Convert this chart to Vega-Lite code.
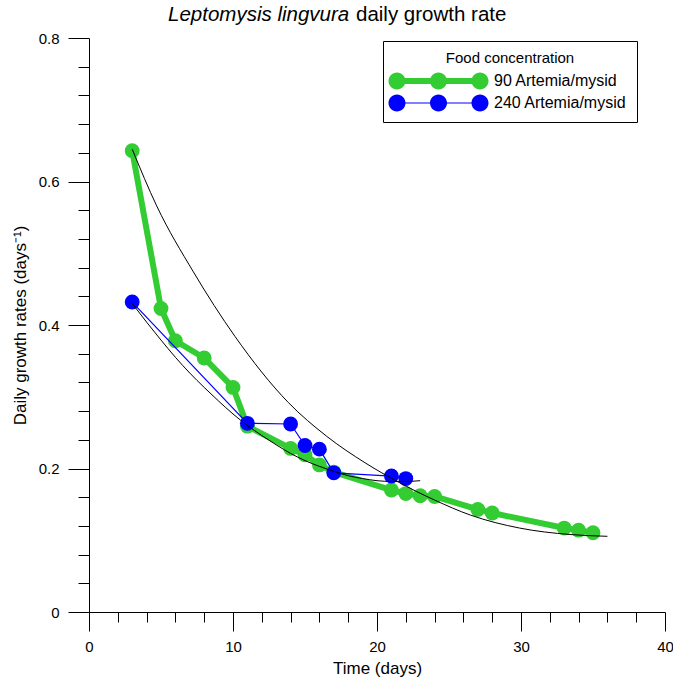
{
  "$schema": "https://vega.github.io/schema/vega-lite/v6.json",
  "width": 576,
  "height": 574,
  "autosize": {"type": "none"},
  "padding": {"left": 89, "top": 38, "right": 8, "bottom": 70},
  "background": "white",
  "config": {
    "view": {"stroke": null},
    "font": "Liberation Sans",
    "axis": {"grid": false, "domainColor": "black", "tickColor": "black", "labelColor": "black", "titleColor": "black", "labelFont": "Liberation Sans", "titleFont": "Liberation Sans", "titleFontWeight": "normal", "labelFontSize": 15, "titleFontSize": 17, "domainWidth": 1, "tickWidth": 1}
  },
  "title": {
    "text": "Leptomysis lingvura",
    "subtitle": "daily growth rate",
    "anchor": "start",
    "frame": "group",
    "dx": 267,
    "font": "Liberation Sans",
    "fontSize": 20.5,
    "fontStyle": "italic",
    "fontWeight": "normal",
    "color": "black",
    "subtitleFont": "Liberation Sans",
    "subtitleFontSize": 20.5,
    "subtitleFontStyle": "normal",
    "subtitleColor": "black",
    "subtitlePadding": -20.5,
    "offset": 6,
    "encoding": {"dx": {"value": 79}}
  },
  "datasets": {
    "growth": [
      {"series": "90 Artemia/mysid", "day": 3, "rate": 0.643},
      {"series": "90 Artemia/mysid", "day": 5, "rate": 0.423},
      {"series": "90 Artemia/mysid", "day": 6, "rate": 0.378},
      {"series": "90 Artemia/mysid", "day": 8, "rate": 0.354},
      {"series": "90 Artemia/mysid", "day": 10, "rate": 0.313},
      {"series": "90 Artemia/mysid", "day": 11, "rate": 0.259},
      {"series": "90 Artemia/mysid", "day": 14, "rate": 0.228},
      {"series": "90 Artemia/mysid", "day": 15, "rate": 0.219},
      {"series": "90 Artemia/mysid", "day": 16, "rate": 0.205},
      {"series": "90 Artemia/mysid", "day": 17, "rate": 0.195},
      {"series": "90 Artemia/mysid", "day": 21, "rate": 0.170},
      {"series": "90 Artemia/mysid", "day": 22, "rate": 0.165},
      {"series": "90 Artemia/mysid", "day": 23, "rate": 0.162},
      {"series": "90 Artemia/mysid", "day": 24, "rate": 0.161},
      {"series": "90 Artemia/mysid", "day": 27, "rate": 0.143},
      {"series": "90 Artemia/mysid", "day": 28, "rate": 0.138},
      {"series": "90 Artemia/mysid", "day": 33, "rate": 0.117},
      {"series": "90 Artemia/mysid", "day": 34, "rate": 0.114},
      {"series": "90 Artemia/mysid", "day": 35, "rate": 0.1105},
      {"series": "240 Artemia/mysid", "day": 3, "rate": 0.432},
      {"series": "240 Artemia/mysid", "day": 11, "rate": 0.263},
      {"series": "240 Artemia/mysid", "day": 14, "rate": 0.262},
      {"series": "240 Artemia/mysid", "day": 15, "rate": 0.232},
      {"series": "240 Artemia/mysid", "day": 16, "rate": 0.227},
      {"series": "240 Artemia/mysid", "day": 17, "rate": 0.194},
      {"series": "240 Artemia/mysid", "day": 21, "rate": 0.1895},
      {"series": "240 Artemia/mysid", "day": 22, "rate": 0.186}
    ],
    "fit": [
      {"curve": "fit90", "day": 3, "rate": 0.645},
      {"curve": "fit90", "day": 4.7, "rate": 0.566},
      {"curve": "fit90", "day": 7.25, "rate": 0.474},
      {"curve": "fit90", "day": 10.14, "rate": 0.384},
      {"curve": "fit90", "day": 13.84, "rate": 0.292},
      {"curve": "fit90", "day": 16.5, "rate": 0.245},
      {"curve": "fit90", "day": 19.17, "rate": 0.208},
      {"curve": "fit90", "day": 21.4, "rate": 0.182},
      {"curve": "fit90", "day": 24, "rate": 0.156},
      {"curve": "fit90", "day": 26.5, "rate": 0.135},
      {"curve": "fit90", "day": 29.9, "rate": 0.117},
      {"curve": "fit90", "day": 33.4, "rate": 0.108},
      {"curve": "fit90", "day": 36, "rate": 0.1055},
      {"curve": "fit240", "day": 3, "rate": 0.430},
      {"curve": "fit240", "day": 4, "rate": 0.404},
      {"curve": "fit240", "day": 5, "rate": 0.379},
      {"curve": "fit240", "day": 6, "rate": 0.355},
      {"curve": "fit240", "day": 7, "rate": 0.333},
      {"curve": "fit240", "day": 8, "rate": 0.313},
      {"curve": "fit240", "day": 9, "rate": 0.294},
      {"curve": "fit240", "day": 10, "rate": 0.276},
      {"curve": "fit240", "day": 11, "rate": 0.260},
      {"curve": "fit240", "day": 12, "rate": 0.246},
      {"curve": "fit240", "day": 13, "rate": 0.233},
      {"curve": "fit240", "day": 14, "rate": 0.221},
      {"curve": "fit240", "day": 15, "rate": 0.211},
      {"curve": "fit240", "day": 16, "rate": 0.203},
      {"curve": "fit240", "day": 17, "rate": 0.196},
      {"curve": "fit240", "day": 18, "rate": 0.190},
      {"curve": "fit240", "day": 19, "rate": 0.186},
      {"curve": "fit240", "day": 20, "rate": 0.183},
      {"curve": "fit240", "day": 21, "rate": 0.182},
      {"curve": "fit240", "day": 22, "rate": 0.182},
      {"curve": "fit240", "day": 23, "rate": 0.183}
    ]
  },
  "encoding": {
    "x": {
      "field": "day", "type": "quantitative",
      "scale": {"domain": [0, 40], "nice": false, "zero": false},
      "axis": {
        "title": "Time (days)",
        "values": [0,2,4,6,8,10,12,14,16,18,20,22,24,26,28,30,32,34,36,38,40],
        "tickSize": {"condition": {"test": "datum.value % 10 === 0", "value": 19}, "value": 10},
        "labelExpr": "datum.value % 10 === 0 ? datum.label : ''",
        "labelPadding": 8,
        "labelFlush": false,
        "labelOverlap": false,
        "titlePadding": 6
      }
    },
    "y": {
      "field": "rate", "type": "quantitative",
      "scale": {"domain": [0, 0.8], "nice": false},
      "axis": {
        "title": "Daily growth rates (days⁻¹)",
        "values": [0,0.04,0.08,0.12,0.16,0.2,0.24,0.28,0.32,0.36,0.4,0.44,0.48,0.52,0.56,0.6,0.64,0.68,0.72,0.76,0.8],
        "tickSize": {"condition": {"test": "round(datum.value*100) % 20 === 0", "value": 21}, "value": 11},
        "labelExpr": "round(datum.value*100) % 20 === 0 ? (datum.value === 0 ? '0' : format(datum.value, '.1f')) : ''",
        "labelPadding": 9,
        "labelFlush": false,
        "labelOverlap": false,
        "titlePadding": 9
      }
    }
  },
  "layer": [
    {
      "data": {"name": "growth"},
      "encoding": {
        "color": {
          "field": "series", "type": "nominal",
          "scale": {"domain": ["90 Artemia/mysid", "240 Artemia/mysid"], "range": ["#33CC33", "#0000FF"]},
          "legend": {
            "title": "Food concentration",
            "orient": "none",
            "legendX": 294,
            "legendY": 3,
            "strokeColor": "black",
            "fillColor": "white",
            "padding": 10,
            "cornerRadius": 0,
            "titleFont": "Liberation Sans",
            "titleFontSize": 15,
            "titleFontWeight": "normal",
            "titleColor": "black",
            "titleAnchor": "middle",
            "titlePadding": 5,
            "labelFont": "Liberation Sans",
            "labelFontSize": 16,
            "labelColor": "black",
            "labelOffset": 45.5,
            "labelLimit": 300,
            "symbolSize": 400,
            "symbolOffset": 35.5,
            "symbolStrokeWidth": 0,
            "symbolOpacity": 1,
            "rowPadding": 3,
            "symbolType": "M-4.15,-0.06L4.15,-0.06L4.15,0.06L-4.15,0.06Z M-5,0A0.85,0.85 0 1,1 -3.3,0A0.85,0.85 0 1,1 -5,0Z M-0.85,0A0.85,0.85 0 1,1 0.85,0A0.85,0.85 0 1,1 -0.85,0Z M3.3,0A0.85,0.85 0 1,1 5,0A0.85,0.85 0 1,1 3.3,0Z",
            "encoding": {
              "symbols": {
                "shape": {
                  "condition": {"test": "datum.value === '90 Artemia/mysid'", "value": "M-4.15,-0.3L4.15,-0.3L4.15,0.3L-4.15,0.3Z M-5,0A0.85,0.85 0 1,1 -3.3,0A0.85,0.85 0 1,1 -5,0Z M-0.85,0A0.85,0.85 0 1,1 0.85,0A0.85,0.85 0 1,1 -0.85,0Z M3.3,0A0.85,0.85 0 1,1 5,0A0.85,0.85 0 1,1 3.3,0Z"},
                  "value": "M-4.15,-0.06L4.15,-0.06L4.15,0.06L-4.15,0.06Z M-5,0A0.85,0.85 0 1,1 -3.3,0A0.85,0.85 0 1,1 -5,0Z M-0.85,0A0.85,0.85 0 1,1 0.85,0A0.85,0.85 0 1,1 -0.85,0Z M3.3,0A0.85,0.85 0 1,1 5,0A0.85,0.85 0 1,1 3.3,0Z"
                }
              }
            }
          }
        }
      },
      "layer": [
        {"transform": [{"filter": "datum.series === '90 Artemia/mysid'"}], "mark": {"type": "line", "strokeWidth": 6, "strokeJoin": "round"}},
        {"transform": [{"filter": "datum.series === '90 Artemia/mysid'"}], "mark": {"type": "point", "shape": "circle", "filled": true, "opacity": 1, "size": 220}},
        {"transform": [{"filter": "datum.series === '240 Artemia/mysid'"}], "mark": {"type": "line", "strokeWidth": 1.2}},
        {"transform": [{"filter": "datum.series === '240 Artemia/mysid'"}], "mark": {"type": "point", "shape": "circle", "filled": true, "opacity": 1, "size": 220}}
      ]
    },
    {
      "data": {"name": "fit"},
      "mark": {"type": "line", "color": "black", "strokeWidth": 1, "interpolate": "monotone"},
      "encoding": {"detail": {"field": "curve", "type": "nominal"}}
    }
  ]
}
